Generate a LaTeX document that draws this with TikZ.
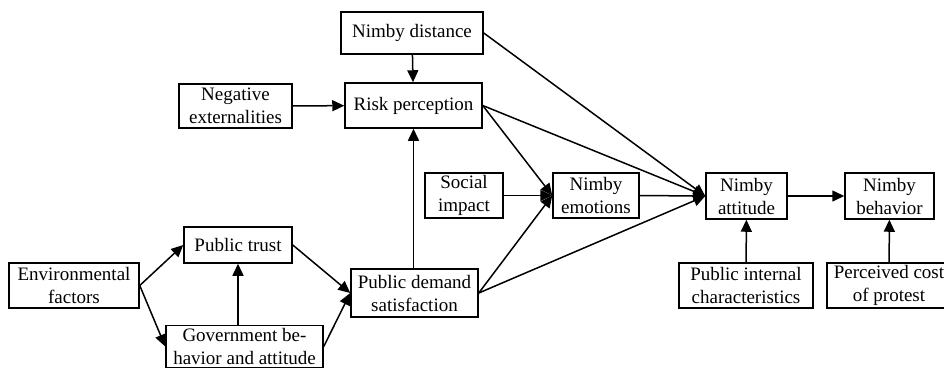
\documentclass[tikz,border=0pt]{standalone}
\usepackage{fontspec}
\setmainfont{Liberation Serif}
\usetikzlibrary{arrows.meta}
\begin{document}
\begin{tikzpicture}[x=1pt,y=-1pt,
  box/.style={draw,line width=1.5pt,inner sep=0pt,align=center,
    font=\fontsize{19}{23}\selectfont},
  link/.style={line width=1.5pt,-{Triangle[length=12pt,width=11pt]}}]
\useasboundingbox (0,0) rectangle (944,368);
% factor boxes
\node[box,minimum width=142pt,minimum height=42pt] (dist) at (412,33) {Nimby distance};
\node[box,minimum width=137pt,minimum height=45pt] (risk) at (413.5,105.5) {Risk perception};
\node[box,minimum width=113pt,minimum height=44pt] (neg) at (235.5,106) {Negative\\externalities};
\node[box,minimum width=78pt,minimum height=45pt] (soc) at (464,195.5) {Social\\impact};
\node[box,minimum width=86pt,minimum height=45pt] (emo) at (596,195.5) {Nimby\\emotions};
\node[box,minimum width=81pt,minimum height=46pt] (att) at (746.5,196) {Nimby\\attitude};
\node[box,minimum width=89pt,minimum height=46pt] (beh) at (889.5,196) {Nimby\\behavior};
\node[box,minimum width=134pt,minimum height=45pt] (pic) at (746,285.5) {Public internal\\characteristics};
\node[box,minimum width=124pt,minimum height=45pt] (cost) at (889,285.5) {Perceived cost\\of protest};
\node[box,minimum width=130pt,minimum height=45pt] (env) at (74,285.5) {Environmental\\factors};
\node[box,minimum width=108pt,minimum height=36pt] (trust) at (238,245) {Public trust};
\node[box,minimum width=157pt,minimum height=42pt] (gov) at (244.5,346.5) {Government be-\\havior and attitude};
\node[box,minimum width=127pt,minimum height=48pt] (pds) at (414.5,293) {Public demand\\satisfaction};
% influence paths
\draw[link] (dist) -- (risk);
\draw[link] (neg) -- (risk);
\draw[link] (dist.east) -- (att.west);
\draw[link] (risk.east) -- (att.west);
\draw[link] (risk.east) -- (emo.west);
\draw[link] (soc) -- (emo);
\draw[link] (pds.east) -- (emo.west);
\draw[link] (pds.east) -- (att.west);
\draw[link] (emo) -- (att);
\draw[link] (att) -- (beh);
\draw[link] (pic) -- (att);
\draw[link] (cost) -- (beh);
\draw[link] (pds.north -| risk.south) -- (risk.south);
\draw[link] (env.east) -- (trust.west);
\draw[link] (env.east) -- (gov.west);
\draw[link] (gov.north -| trust.south) -- (trust.south);
\draw[link] (gov.east) -- (pds.west);
\draw[link] (trust.east) -- (pds.west);
\end{tikzpicture}
\end{document}
